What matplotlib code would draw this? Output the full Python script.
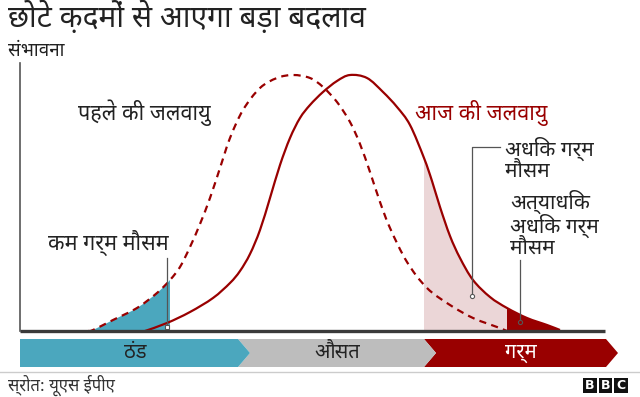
import numpy as np
import matplotlib
matplotlib.use("Agg")
import matplotlib.pyplot as plt
from matplotlib.patches import Polygon, Rectangle, PathPatch
from matplotlib.path import Path

plt.rcParams['font.family'] = ['Noto Sans Devanagari', 'DejaVu Sans']

# --- data (x: temperature, y: probability) ---
x_old = [68, 73, 93, 117, 137, 150, 160, 170, 180, 190, 200, 210, 223, 240, 257,
         273, 290, 303, 317, 330, 340, 350, 360, 370, 387, 407, 430, 453, 477, 487]
y_old = [0, 1, 11, 23, 38, 51, 64, 84, 107, 133, 163, 193, 221, 243, 253,
         256, 253, 244, 229, 209, 187, 159, 129, 103, 69, 43, 26, 13, 4, 0]

x_new = [125, 147, 170, 193, 210, 220, 230, 240, 250, 260, 270, 280, 290, 303,
         317, 330, 347, 363, 377, 390, 404, 412, 420, 430, 440, 453, 470,
         487, 507, 527, 540]
y_new = [0, 8, 19, 33, 48, 60, 77, 101, 133, 166, 193, 213, 226, 239,
         250, 256, 253, 239, 224, 206, 173, 150, 124, 95, 73, 51, 34,
         23, 13, 6, 1]

cold_edge = 150      # end of "less hot weather" area
hot_start = 404      # start of "more hot weather"
extreme_start = 487  # start of "extremely hot weather"

title = "छोटे क़दमों से आएगा बड़ा बदलाव"
y_label = "संभावना"
old_label = "पहले की जलवायु"
new_label = "आज की जलवायु"
cold_label = "कम गर्म मौसम"
hot_label = "अधिक गर्म\nमौसम"
extreme_label = "अत्याधिक\nअधिक गर्म\nमौसम"
band_labels = ["ठंड", "औसत", "गर्म"]
band_colors = ["#4ba7be", "#bdbdbd", "#990000"]
band_text_colors = ["#222222", "#222222", "#ffffff"]
source = "स्रोत: यूएस ईपीए"

RED = "#990000"
W, H = 640, 397


def smooth_path(x, y, i0=0, i1=None, close=False):
    """Catmull-Rom curve through the points i0..i1 drawn as cubic Bezier pieces."""
    p = np.column_stack([x, y]).astype(float)
    n = len(p)
    if i1 is None:
        i1 = n - 1
    verts = [p[i0]]
    codes = [Path.MOVETO]
    for i in range(i0, i1):
        a = p[max(i - 1, 0)]
        b, c = p[i], p[i + 1]
        d = p[min(i + 2, n - 1)]
        verts += [b + (c - a) / 6, c - (d - b) / 6, c]
        codes += [Path.CURVE4] * 3
    if close:
        verts += [(p[i1][0], 0), (p[i0][0], 0), p[i0]]
        codes += [Path.LINETO, Path.LINETO, Path.CLOSEPOLY]
    return Path(verts, codes)


fig = plt.figure(figsize=(6.4, 3.97), dpi=100)

# overlay in pixel coordinates for texts, band and logo
bg = fig.add_axes([0, 0, 1, 1])
bg.set_xlim(0, W)
bg.set_ylim(H, 0)
bg.axis("off")

# main plot: baseline at y=331px, left axis at x=20px
x0, x1, yb, yt = 20, 610, 331, 63
ax = fig.add_axes([x0 / W, (H - yb) / H, (x1 - x0) / W, (yb - yt) / H])
ax.set_xlim(0, x1 - x0)
ax.set_ylim(0, yb - yt)
ax.axis("off")

ic = x_old.index(cold_edge)
ih = x_new.index(hot_start)
ie = x_new.index(extreme_start)

ax.add_patch(PathPatch(smooth_path(x_old, y_old, 0, ic, close=True),
                       fc="#4ba7be", ec="none"))
ax.add_patch(PathPatch(smooth_path(x_new, y_new, ih, ie, close=True),
                       fc="#ebd6d7", ec="none"))
ax.add_patch(PathPatch(smooth_path(x_new, y_new, ie, None, close=True),
                       fc=RED, ec="none"))

ax.add_patch(PathPatch(smooth_path(x_old, y_old), fc="none", ec=RED, lw=1.6,
                       ls=(0, (3.2, 2.4))))
ax.add_patch(PathPatch(smooth_path(x_new, y_new), fc="none", ec=RED, lw=1.6))

# axes lines
ax.plot([0, 0], [0, yb - yt], color="#555555", lw=1.2, clip_on=False)
ax.plot([0, 585], [0, 0], color="#3a3a3a", lw=2.4, solid_capstyle="butt", clip_on=False)

# leader lines
lead = dict(color="#555555", lw=0.9)
ax.plot([147, 147], [4, 73], **lead)
ax.plot([147], [4], marker="s", ms=3, mfc="white", mec="#555555", mew=0.8)
ax.plot([452, 452, 480], [35, 184, 184], **lead)
ax.plot([452], [35], marker="o", ms=3, mfc="white", mec="#555555", mew=0.8)
ax.plot([500, 500], [9, 71], **lead)
ax.plot([500], [9], marker="o", ms=3, mfc=RED, mec="#555555", mew=0.8)

# texts
bg.text(8, 17, title, fontsize=21.5, color="#222222", va="center", ha="left")
bg.text(8, 51, y_label, fontsize=13.5, color="#222222", va="center", ha="left")
bg.text(78, 113, old_label, fontsize=15.5, color="#222222", va="center")
bg.text(415, 113, new_label, fontsize=15.5, color=RED, va="center")
bg.text(48, 243, cold_label, fontsize=15.5, color="#222222", va="center")
bg.text(505, 159, hot_label, fontsize=15, color="#222222", va="center",
        linespacing=1.0)
bg.text(510, 224, extreme_label, fontsize=15, color="#222222", va="center",
        linespacing=1.0)

# arrow band
top, bot, mid = 339, 367, 353
edges = [20, 238, 424, 606]
tip = 12
for i, lab in enumerate(band_labels):
    a, b = edges[i], edges[i + 1]
    pts = [(a, top), (b, top), (b + tip, mid), (b, bot), (a, bot)]
    if i > 0:
        pts.append((a + tip, mid))
    bg.add_patch(Polygon(pts, closed=True, color=band_colors[i], lw=0, zorder=3 - i * 0.1))
    bg.text((a + b) / 2 + 6, mid, lab, fontsize=14.5, color=band_text_colors[i],
            ha="center", va="center", zorder=5)

# footer
bg.plot([0, W], [372, 372], color="#cccccc", lw=1)
bg.text(8, 385, source, fontsize=12, color="#333333", va="center")
for k, ch in enumerate("BBC"):
    bx = 583 + k * 15.5
    bg.add_patch(Rectangle((bx, 378), 13.5, 15, color="#111111", lw=0))
    bg.text(bx + 6.75, 385.8, ch, fontsize=9, fontweight="bold", color="white",
            ha="center", va="center", family="DejaVu Sans")

fig.savefig("out.png", dpi=100)
